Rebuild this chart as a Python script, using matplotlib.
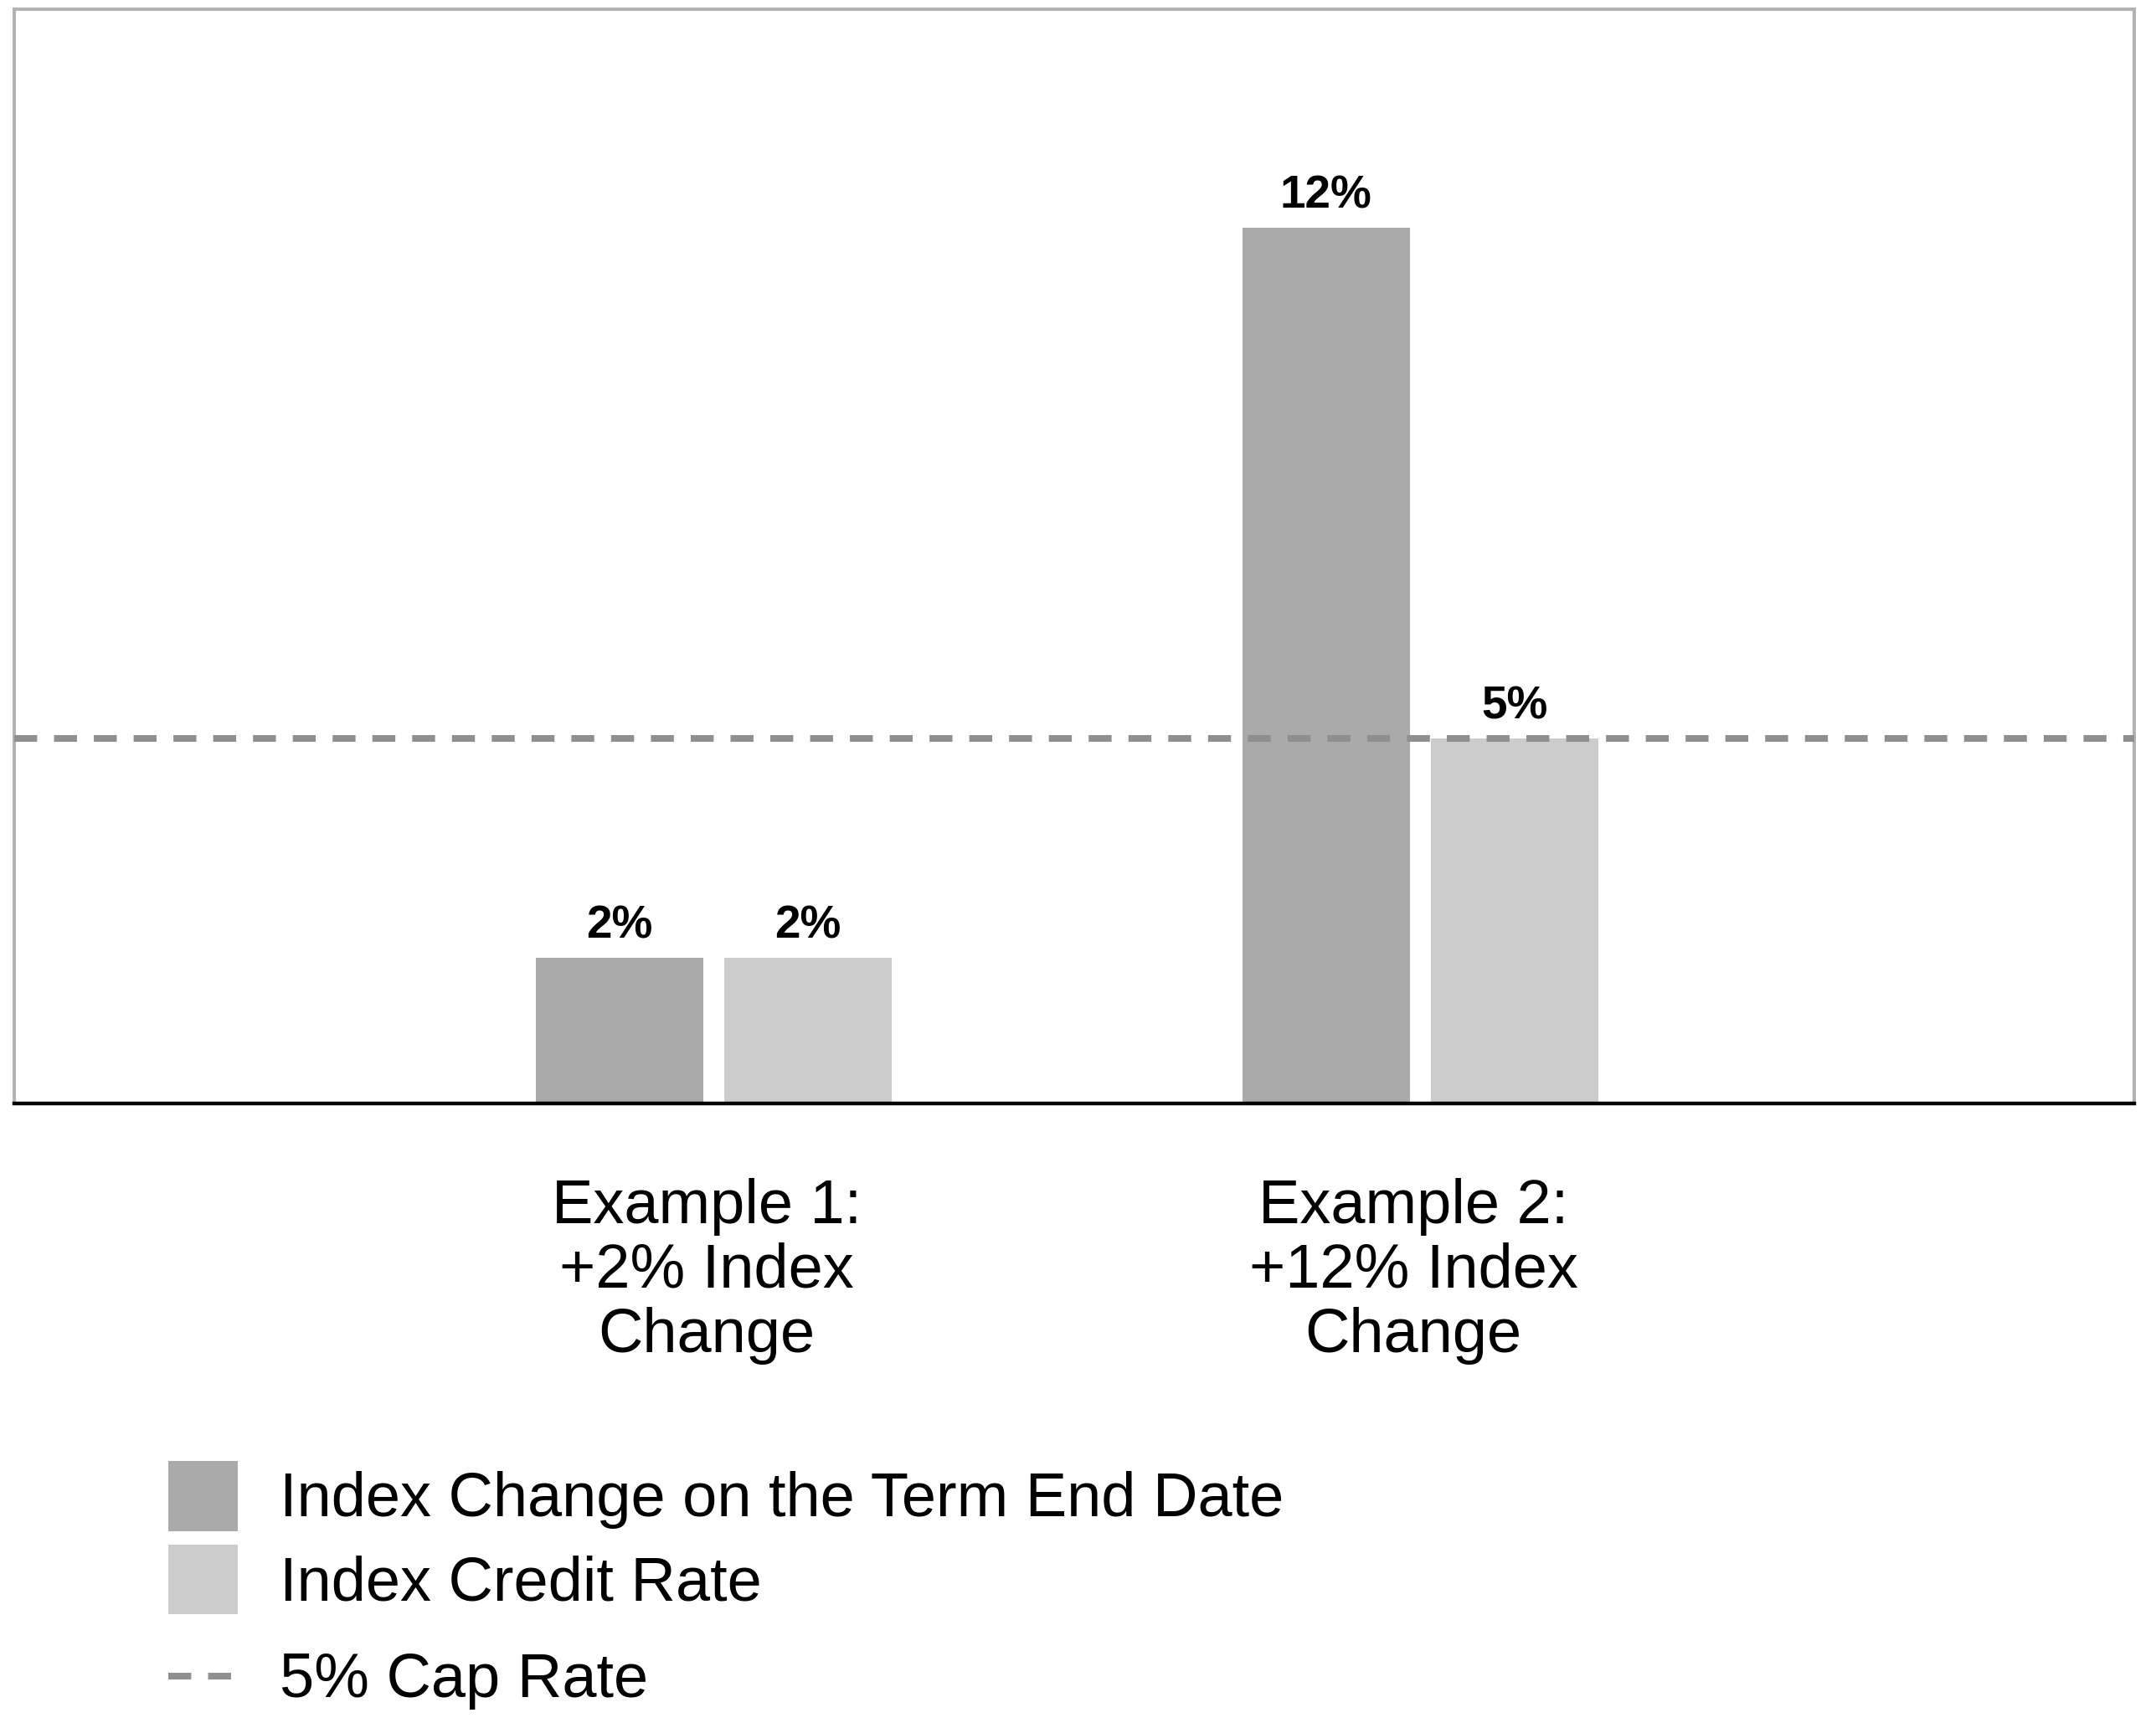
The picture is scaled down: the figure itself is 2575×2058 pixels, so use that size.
import matplotlib
matplotlib.use("Agg")
import matplotlib.pyplot as plt
from matplotlib.patches import Patch
from matplotlib.lines import Line2D
import matplotlib.transforms as mtransforms
import numpy as np

# data
categories = ["Example 1:\n+2% Index\nChange", "Example 2:\n+12% Index\nChange"]
index_change = [2, 12]
credit_rate = [2, 5]
cap_rate = 5
series_names = ["Index Change on the Term End Date", "Index Credit Rate", "5% Cap Rate"]

dark = "#aaaaaa"
light = "#cccccc"
dash_col = "#8f8f8f"
frame_col = "#b3b3b3"

plt.rcParams["font.family"] = ["Liberation Sans", "DejaVu Sans"]

W, H = 2575, 2058
fig = plt.figure(figsize=(W / 100, H / 100), dpi=100)
ax = fig.add_axes([17 / W, 1 - 1318 / H, (2549 - 17) / W, (1318 - 11) / H])

x = np.arange(len(categories))
w = 0.237
off = 0.1335
b1 = ax.bar(x - off, index_change, w, color=dark, zorder=2)
b2 = ax.bar(x + off, credit_rate, w, color=light, zorder=2)

for bars, vals in ((b1, index_change), (b2, credit_rate)):
    for rect, v in zip(bars, vals):
        ax.annotate(f"{v}%", (rect.get_x() + rect.get_width() / 2, v),
                    xytext=(0, 17), textcoords="offset points",
                    ha="center", va="baseline", fontsize=39.5, fontweight="bold")

# cap rate line
ax.axhline(cap_rate, color=dash_col, lw=5.8, dashes=(3.4, 2.5), zorder=3)

ax.set_xlim(-0.99, 2.01)
ax.set_ylim(0, 15)
ax.set_yticks([])
ax.set_xticks(x)
ax.set_xticklabels(categories, fontsize=53.3, linespacing=1.15)
ax.tick_params(axis="x", length=0, pad=64)
shift = mtransforms.ScaledTranslation(-6 / 72, 0, fig.dpi_scale_trans)
for lbl in ax.get_xticklabels():
    lbl.set_transform(lbl.get_transform() + shift)

for s in ("left", "top", "right"):
    ax.spines[s].set_color(frame_col)
    ax.spines[s].set_linewidth(2.9)
ax.spines["bottom"].set_color("black")
ax.spines["bottom"].set_linewidth(3.2)
ax.spines["bottom"].set_zorder(4)

fs = 53.3
leg1 = fig.legend([Patch(facecolor=dark), Patch(facecolor=light)], series_names[:2],
                  loc="upper left", bbox_to_anchor=(201 / W, 1 - 1745 / H),
                  frameon=False, fontsize=fs, handlelength=1.12, handleheight=1.36,
                  handletextpad=0.68, labelspacing=0.22, borderpad=0, borderaxespad=0)
leg2 = fig.legend([Line2D([], [], color=dash_col, lw=5.8, dashes=(3.4, 2.5))],
                  series_names[2:], loc="center left",
                  bbox_to_anchor=(201 / W, 1 - 2008 / H),
                  frameon=False, fontsize=fs, handlelength=1.12,
                  handletextpad=0.68, borderpad=0, borderaxespad=0)

fig.savefig("out.png", dpi=100)
